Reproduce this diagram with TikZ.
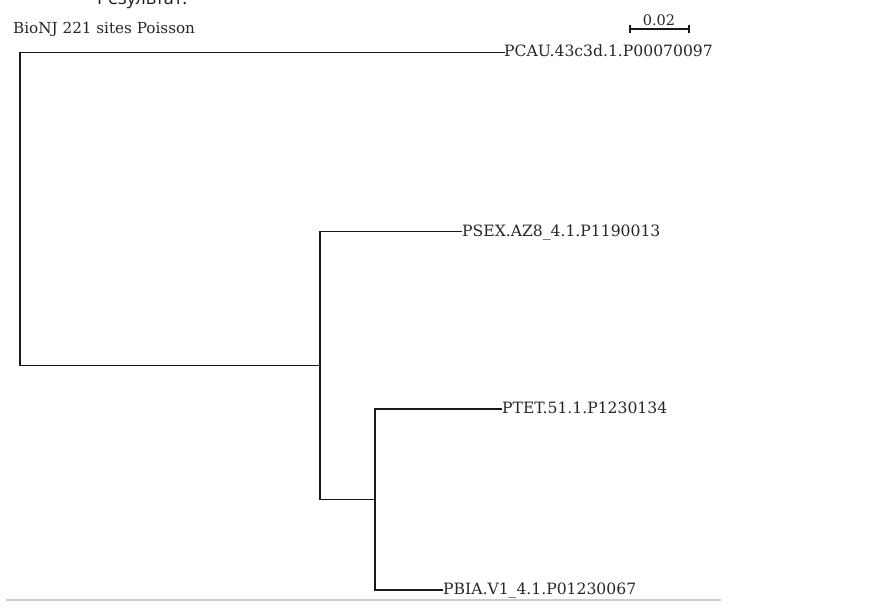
\documentclass[tikz,border=0pt]{standalone}
\usepackage{fontspec}
\setmainfont{DejaVu Serif}
\newfontfamily\ruFont{Open Sans}
\begin{document}
\begin{tikzpicture}[x=1pt,y=-1pt,
  branch/.style={line width=1.6pt,draw=black!90},
  leaf/.style={anchor=base west,inner sep=0pt,font=\fontsize{15.6}{17}\selectfont,text=black!85},
  scalelbl/.style={anchor=base,inner sep=0pt,font=\fontsize{14.5}{16}\selectfont,text=black!85}]
\useasboundingbox (0,0) rectangle (884,609);
% heading (cut off at top, as in the reference)
\node[anchor=base west,inner sep=0pt,font=\ruFont\fontsize{18}{21}\selectfont,text=black!90] (res) at (97,5) {Результат:};
\node[anchor=base west,inner sep=0pt,font=\fontsize{15.2}{17}\selectfont,text=black!85] (title) at (13,34) {BioNJ 221 sites Poisson};
% internal nodes
\coordinate (root) at (20,208);
\coordinate (n1) at (320,365.6);
\coordinate (n2) at (375,499.5);
% leaves
\coordinate (l1) at (504,52.5);
\coordinate (l2) at (462,231.7);
\coordinate (l3) at (502,409.3);
\coordinate (l4) at (443,590);
\node[leaf] (t1) at ([yshift=-4.5pt]l1) {PCAU.43c3d.1.P00070097};
\node[leaf] (t2) at ([yshift=-4.5pt]l2) {PSEX.AZ8\_4.1.P1190013};
\node[leaf] (t3) at ([yshift=-4.5pt]l3) {PTET.51.1.P1230134};
\node[leaf] (t4) at ([yshift=-4.5pt]l4) {PBIA.V1\_4.1.P01230067};
% branches
\draw[branch,line cap=rect] (l1) -| (root) |- (n1);
\draw[branch] (l2) -| (n1) |- (n2);
\draw[branch] (l3) -| (n2) |- (l4);
% scale bar
\coordinate (sa) at (630,29);
\coordinate (sb) at (689,29);
\draw[branch,line width=1.3pt] (sa) -- (sb);
\draw[branch,line width=1.3pt] ([yshift=-4pt]sa) -- ([yshift=4pt]sa);
\draw[branch,line width=1.3pt] ([yshift=-4pt]sb) -- ([yshift=4pt]sb);
\node[scalelbl] (sl) at (659,25.5) {0.02};
% bottom rule
\coordinate (ra) at (6,600);
\coordinate (rb) at (721,600);
\draw[line width=1.2pt,draw=black!20] (ra) -- (rb);
\end{tikzpicture}
\end{document}
